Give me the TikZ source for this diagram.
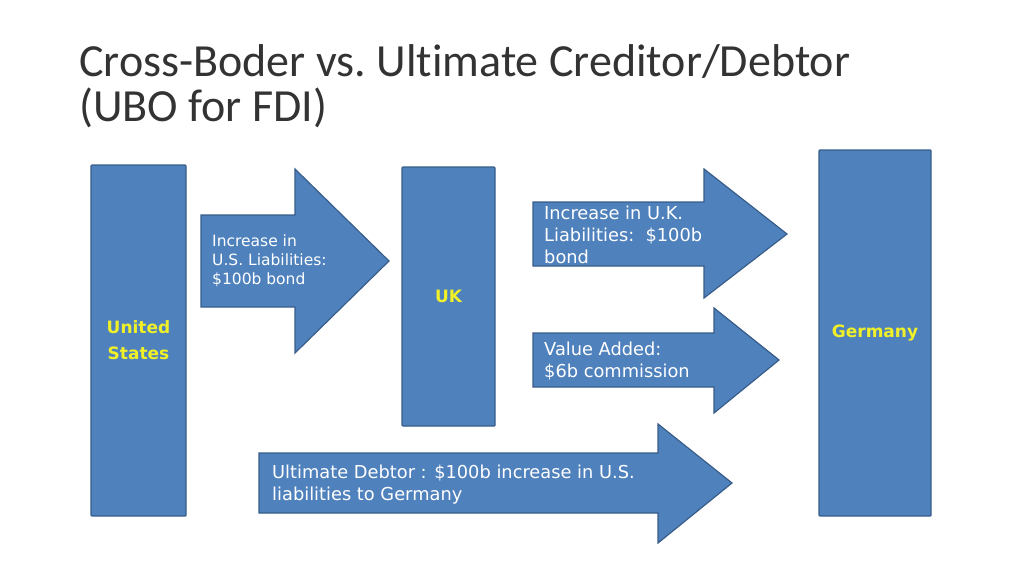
\documentclass[tikz,border=0pt]{standalone}
\usepackage{fontspec}
\setmainfont{Carlito}[Ligatures={NoCommon}]
\newfontfamily\labelfont{DejaVu Sans}
\usepackage{tikz}
\usetikzlibrary{positioning}
\definecolor{boxblue}{HTML}{4F81BD}
\definecolor{boxline}{HTML}{385D8A}
\definecolor{labelyellow}{RGB}{240,240,40}

\begin{document}
\begin{tikzpicture}[x=1pt,y=-1pt]
  \tikzset{
country box/.style={rectangle,draw=boxline,fill=boxblue,line width=1.4pt,rounded corners=1pt,
  text=labelyellow,font=\labelfont\bfseries\fontsize{17}{26}\selectfont,align=center},
flow arrow/.style={draw=boxline,fill=boxblue,line width=1.2pt},
flow text/.style={anchor=west,inner sep=0,align=left,text=white,font=\labelfont\fontsize{17.8}{22}\selectfont}
}
  \useasboundingbox (0,0) rectangle (1024,576);
  % title
  \node[anchor=base west,inner sep=0,align=left,font=\fontsize{46}{45}\selectfont,text=black!80] (title) at (79,121)
    {Cross-Boder vs.\ Ultimate Creditor/Debtor\\(UBO for FDI)};
  % countries
  \node[country box,minimum width=95,minimum height=351] (us) at (138.5,340.5) {United\\States};
  \node[country box,minimum width=93,minimum height=259] (uk) at (448.5,296.5) {UK};
  \node[country box,minimum width=112,minimum height=366] (de) at (875,333) {Germany};
  % flows
  \draw[flow arrow] (201,215) -- (295,215) -- (295,169) -- (389,261) -- (295,353) -- (295,307) -- (201,307) -- cycle;
  \draw[flow arrow] (533,202) -- (704,202) -- (704,169) -- (787,234) -- (704,298) -- (704,266) -- (533,266) -- cycle;
  \draw[flow arrow] (533,333) -- (714,333) -- (714,308) -- (779,360) -- (714,413) -- (714,387) -- (533,387) -- cycle;
  \draw[flow arrow] (259,453) -- (658,453) -- (658,424) -- (732,483) -- (658,543) -- (658,513) -- (259,513) -- cycle;
  \node[flow text,font=\labelfont\fontsize{15.5}{19}\selectfont] (usuk) at (212,261) {Increase in\\U.S. Liabilities:\\\$100b bond};
  \node[flow text] (ukde) at (544,235) {Increase in U.K.\\Liabilities:\ \ \$100b\\bond};
  \node[flow text] (fee) at (544,361) {Value Added:\\\$6b commission};
  \node[flow text] (ultimate) at (272,485) {Ultimate Debtor : \$100b increase in U.S.\\liabilities to Germany};
\end{tikzpicture}
\end{document}
